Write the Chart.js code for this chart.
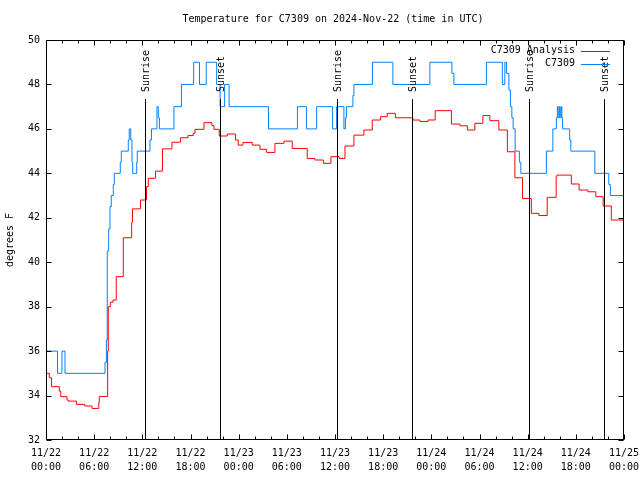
<!DOCTYPE html>
<html>
<head>
<meta charset="utf-8">
<title>Temperature for C7309</title>
<script src="https://cdn.jsdelivr.net/npm/chart.js@4.4.1/dist/chart.umd.min.js"></script>
<style>
  html, body { margin: 0; padding: 0; background: #fff; }
  #wrap { width: 640px; height: 480px; }
</style>
</head>
<body>
<div id="wrap"><canvas id="tempChart" width="640" height="480"></canvas></div>
<script>
// times are hours since 2024-11-22 00:00 UTC
const dayLabels = ['11/22', '11/23', '11/24', '11/25'];
const hourLabels = ['00:00', '06:00', '12:00', '18:00'];
const seriesNames = ['C7309 Analysis', 'C7309'];
const seriesColors = ['#ff0000', '#0080ff'];

const analysisHours = [0, 0.41, 0.68, 1.66, 1.83, 2.62, 2.78, 3.80, 4.82, 5.73, 6.58, 6.64, 7.68, 7.76, 8.01, 8.34, 8.75,
    9.63, 10.67, 10.77, 11.77, 12.52, 12.74, 13.64, 14.51, 15.69, 16.75, 17.68, 18.34, 18.56, 19.68, 20.67, 20.92, 21.58,
    22.58, 23.60, 23.95, 24.53, 25.69, 26.65, 27.48, 28.52, 29.64, 30.67, 32.54, 33.50, 34.56, 35.49, 36.52, 37.24, 38.36,
    39.60, 40.64, 41.68, 42.50, 43.52, 45.70, 46.58, 47.57, 48.48, 50.50, 51.56, 52.49, 53.42, 54.42, 55.29, 56.41, 57.47,
    58.41, 59.36, 60.46, 61.39, 62.43, 63.55, 63.64, 65.44, 66.41, 67.50, 68.49, 69.40, 70.42, 72];
const analysisTemps = [35.0, 34.8, 34.4, 34.2, 33.95, 33.8, 33.75, 33.6, 33.53, 33.42, 33.7, 33.96, 36.0, 38.0, 38.2, 38.3, 39.35,
    41.1, 41.8, 42.4, 42.8, 43.4, 43.78, 44.1, 45.1, 45.4, 45.6, 45.7, 45.8, 45.98, 46.28, 46.15, 45.98, 45.68,
    45.77, 45.5, 45.27, 45.39, 45.27, 45.08, 44.94, 45.35, 45.45, 45.12, 44.67, 44.6, 44.45, 44.75, 44.67, 45.23, 45.72,
    45.95, 46.4, 46.55, 46.7, 46.5, 46.4, 46.33, 46.4, 46.82, 46.22, 46.14, 45.95, 46.25, 46.6, 46.37, 45.95, 44.97,
    43.8, 42.87, 42.2, 42.1, 42.92, 43.85, 43.92, 43.52, 43.25, 43.17, 42.95, 42.53, 41.9, 41.9];

const obsHours = [0, 1.43, 1.99, 2.37, 7.35, 7.53, 7.63, 7.81, 7.97, 8.13, 8.38, 8.51, 9.25, 9.38, 10.25, 10.37, 10.56,
    10.71, 10.80, 11.30, 11.37, 12.95, 13.14, 13.82, 13.99, 14.13, 15.94, 16.87, 18.39, 19.12, 19.96, 21.26, 21.69, 22.25,
    22.81, 27.71, 31.32, 32.44, 33.71, 35.70, 36.20, 37.11, 37.30, 37.42, 38.23, 38.36, 40.66, 43.21, 47.82, 50.56, 50.81,
    54.86, 56.85, 57.16, 57.35, 57.66, 57.85, 58.03, 58.19, 58.44, 58.97, 59.15, 62.33, 63.14, 63.57, 63.70, 63.80, 63.95,
    64.05, 64.17, 64.26, 64.35, 65.23, 65.38, 68.37, 70.11, 70.30, 72];
const obsTemps = [36, 35, 36, 35, 35.5, 36.5, 40.5, 41.5, 42.5, 43, 43.5, 44, 44.5, 45, 45.5, 46, 45.5,
    44.5, 44, 44.5, 45, 45.5, 46, 47, 46.5, 46, 47, 48, 49, 48, 49, 48, 47, 48,
    47, 46, 47, 46, 47, 46, 47, 46, 46.5, 47, 47.5, 48, 49, 48, 49, 48.5, 48,
    49, 48, 49, 48.5, 47.75, 47, 46.5, 46, 45, 44.5, 44, 45, 46, 46.5, 47, 46.5, 47,
    46.5, 47, 46.5, 46, 45.5, 45, 44, 43.5, 43, 43];

const sunHours = [12.39, 21.71, 36.24, 45.58, 60.19, 69.53];
const sunNames = ['Sunrise', 'Sunset', 'Sunrise', 'Sunset', 'Sunrise', 'Sunset'];
const sunLineTop = 47.35;

const FONT = '10px "DejaVu Sans Mono", "Liberation Mono", monospace';

const toPoints = (hours, temps) => hours.map((h, i) => ({ x: h, y: temps[i] }));

// gnuplot-like frame: border, inward ticks, sun markers, legend, titles
const gnuplotFrame = {
    id: 'gnuplotFrame',
    afterDatasetsDraw(chart) {
        const { ctx, chartArea: a, scales: { x, y } } = chart;
        const L = Math.round(a.left) + 0.5, R = Math.round(a.right) - 0.5;
        const T = Math.round(a.top) + 0.5, B = Math.round(a.bottom) - 0.5;
        ctx.save();
        ctx.strokeStyle = '#000';
        ctx.fillStyle = '#000';
        ctx.lineWidth = 1;
        ctx.font = FONT;

        // sunrise / sunset markers
        sunHours.forEach((h, i) => {
            const px = Math.round(x.getPixelForValue(h)) + 0.5;
            ctx.beginPath();
            ctx.moveTo(px, Math.round(y.getPixelForValue(sunLineTop)));
            ctx.lineTo(px, B);
            ctx.stroke();
            ctx.save();
            ctx.translate(px + 1, a.top + 52);
            ctx.rotate(-Math.PI / 2);
            ctx.textAlign = 'left';
            ctx.textBaseline = 'middle';
            ctx.fillText(sunNames[i], 0, 0);
            ctx.restore();
        });

        // border
        ctx.strokeRect(L, T, R - L, B - T);

        // x ticks (major every 6h, minor every 2h)
        ctx.beginPath();
        for (let h = 0; h <= 72; h += 2) {
            const px = Math.round(x.getPixelForValue(h)) + 0.5;
            const len = h % 6 === 0 ? 5 : 3;
            ctx.moveTo(px, B); ctx.lineTo(px, B - len);
            ctx.moveTo(px, T); ctx.lineTo(px, T + len);
        }
        // y ticks
        y.ticks.forEach(t => {
            const py = Math.round(y.getPixelForValue(t.value)) + 0.5;
            ctx.moveTo(L, py); ctx.lineTo(L + 5, py);
            ctx.moveTo(R, py); ctx.lineTo(R - 5, py);
        });
        ctx.stroke();

        // legend
        ctx.textAlign = 'right';
        ctx.textBaseline = 'middle';
        seriesNames.forEach((name, i) => {
            const ly = a.top + 10.5 + i * 13;
            ctx.fillStyle = '#000';
            ctx.fillText(name, a.left + 529, ly);
            ctx.strokeStyle = seriesColors[i];
            ctx.beginPath();
            ctx.moveTo(a.left + 535, Math.round(ly) + 0.5);
            ctx.lineTo(a.left + 564, Math.round(ly) + 0.5);
            ctx.stroke();
        });

        // title and y-axis label
        ctx.fillStyle = '#000';
        ctx.textAlign = 'center';
        ctx.fillText('Temperature for C7309 on 2024-Nov-22 (time in UTC)', 333, 19);
        ctx.save();
        ctx.translate(10, (a.top + a.bottom) / 2);
        ctx.rotate(-Math.PI / 2);
        ctx.fillText('degrees F', 0, 0);
        ctx.restore();
        ctx.restore();
    }
};

const ctx = document.getElementById('tempChart');
new Chart(ctx, {
    type: 'line',
    data: {
        datasets: [
            {
                label: seriesNames[0],
                data: toPoints(analysisHours, analysisTemps),
                borderColor: seriesColors[0],
                borderWidth: 1,
                pointRadius: 0,
                stepped: true,
                fill: false
            },
            {
                label: seriesNames[1],
                data: toPoints(obsHours, obsTemps),
                borderColor: seriesColors[1],
                borderWidth: 1,
                pointRadius: 0,
                stepped: true,
                fill: false
            }
        ]
    },
    options: {
        responsive: false,
        animation: false,
        devicePixelRatio: 1,
        layout: { padding: { top: 40, right: 0, left: 0, bottom: 0 } },
        plugins: {
            legend: { display: false },
            tooltip: { enabled: false }
        },
        scales: {
            x: {
                type: 'linear',
                min: 0,
                max: 72,
                grid: { display: false, drawTicks: false },
                border: { display: false },
                afterFit: s => { s.height = 40; s.paddingLeft = 0; s.paddingRight = 16; },
                ticks: {
                    stepSize: 6,
                    autoSkip: false,
                    maxRotation: 0,
                    padding: 6,
                    color: '#000',
                    font: { family: '"DejaVu Sans Mono", monospace', size: 10, lineHeight: 1.4 },
                    callback: v => [dayLabels[Math.floor(v / 24)], hourLabels[(v % 24) / 6]]
                }
            },
            y: {
                min: 32,
                max: 50,
                grid: { display: false, drawTicks: false },
                border: { display: false },
                afterFit: s => { s.width = 46; },
                ticks: {
                    stepSize: 2,
                    padding: 6,
                    color: '#000',
                    font: { family: '"DejaVu Sans Mono", monospace', size: 10 }
                }
            }
        }
    },
    plugins: [gnuplotFrame]
});
</script>
</body>
</html>
